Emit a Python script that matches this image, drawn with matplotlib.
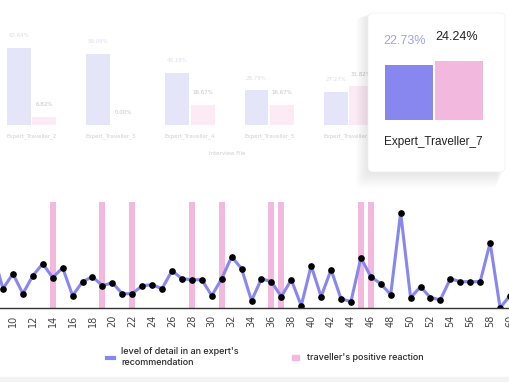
import matplotlib.pyplot as plt
from matplotlib.patches import FancyBboxPatch, Rectangle, Patch
from matplotlib.lines import Line2D
from matplotlib.transforms import IdentityTransform

# faded comparison chart behind the card
experts = ['Expert_Traveller_2', 'Expert_Traveller_3', 'Expert_Traveller_4',
           'Expert_Traveller_5', 'Expert_Traveller_6']
detail_pct = [63.64, 59.09, 43.18, 28.79, 27.27]
reaction_pct = [6.82, 0.00, 16.67, 16.67, 31.82]

# highlighted card
card_expert = 'Expert_Traveller_7'
card_values = [22.73, 24.24]

# line chart: level of detail per answer + positive reactions
answers = list(range(8, 61))
detail_level = [54, 19, 34, 14, 32, 44, 30, 40, 12, 26, 31, 22, 25, 14, 14, 22,
                23, 19, 37, 29, 28, 28, 12, 29, 51, 39, 7, 29, 26, 11, 28, 2,
                42, 11, 38, 9, 6, 50, 31, 24, 13, 95, 10, 21, 10, 8, 29, 26,
                26, 26, 65, 0, 12]
reaction_at = [14, 19, 22, 28, 31, 36, 37, 45, 46]
reaction_val = [1] * len(reaction_at)

PURPLE = '#8787ef'
PINK = '#f2b8dd'
W, H = 510, 382

fig = plt.figure(figsize=(W / 100, H / 100), dpi=100)


def px_axes(x0, y0, x1, y1):
    return fig.add_axes([x0 / W, 1 - y1 / H, (x1 - x0) / W, (y1 - y0) / H])


# ---- faded top chart
ax_top = px_axes(0, 0, 510, 125)
step = 79.25
xs = list(range(len(experts)))
ax_top.bar([x - 0.16 for x in xs], detail_pct, 0.3, color='#e5e5fa')
ax_top.bar([x + 0.16 for x in xs], reaction_pct, 0.3, color='#fcebf4')
for x, a, b in zip(xs, detail_pct, reaction_pct):
    ax_top.text(x - 0.16, a + 10, f'{a:.2f}%', ha='center', va='center',
                fontsize=4, color='#dcdcf0')
    ax_top.text(x + 0.16, b + 10, f'{b:.2f}%', ha='center', va='center',
                fontsize=4, color='#c4c4c8')
ax_top.set_xlim(-31.5 / step, (510 - 31.5) / step)
ax_top.set_ylim(0, 125 / 1.21)
ax_top.set_xticks(xs)
ax_top.set_xticklabels(experts, fontsize=4, color='#cfcfd3')
ax_top.tick_params(length=0, pad=6)
ax_top.set_yticks([])
for s in ax_top.spines.values():
    s.set_visible(False)
fig.text(227 / W, 1 - 154 / H, 'Interview File', ha='center', va='center',
         fontsize=4, color='#cfcfd3')

# ---- line chart
ax = px_axes(0, 195, 510, 307.7)
axb = ax.twinx()
axb.bar(reaction_at, reaction_val, 0.6, color=PINK)
axb.set_ylim(0, 112.7 / 105.5)
axb.axis('off')
ax.set_zorder(axb.get_zorder() + 1)
ax.patch.set_visible(False)
ax.plot(answers, detail_level, color=PURPLE, lw=2.2, marker='o',
        markersize=3.8, markerfacecolor='black', markeredgecolor='black')
ax.set_xlim(8.7, 59.5)
ax.set_ylim(0, 112.7)
ax.set_xticks(range(10, 61, 2))
ax.set_xticklabels([str(t) for t in range(10, 61, 2)], rotation=90,
                   fontsize=7, color='#444444')
ax.tick_params(axis='x', length=0, pad=5)
ax.set_yticks([])
for k in ['top', 'left', 'right']:
    ax.spines[k].set_visible(False)
ax.spines['bottom'].set_color('#333333')
ax.spines['bottom'].set_linewidth(1.0)

handles = [Line2D([], [], color=PURPLE, lw=3),
           Patch(color=PINK)]
labels = ["level of detail in an expert's\nrecommendation",
          "traveller's positive reaction"]
fig.legend(handles, labels, loc='center', bbox_to_anchor=(0.5196, 1 - 357 / H),
           ncol=2, frameon=False, handlelength=0.8,
           handleheight=0.4, columnspacing=5.9, handletextpad=0.8,
           labelcolor='#2a2a2a', prop={'family': 'Inter', 'size': 6.5,
                                       'weight': 'medium'})

fig.patches.append(Rectangle((0, 0), 1, 5 / H, transform=fig.transFigure,
                             color='#f3f3f3', zorder=0))

# ---- card with soft shadow
cx0, cy0, cx1, cy1 = 368, 13, 505, 172
for k in range(8, 0, -1):
    fig.patches.append(FancyBboxPatch(
        (cx0 - k * 1.5, H - cy1 - k * 2), cx1 - cx0 + k * 0.5, cy1 - cy0 + k * 1.5,
        boxstyle='round,pad=0,rounding_size=6', transform=IdentityTransform(),
        facecolor='#000000', edgecolor='none', alpha=0.011, zorder=5))
fig.patches.append(FancyBboxPatch(
    (cx0, H - cy1), cx1 - cx0, cy1 - cy0, boxstyle='round,pad=0,rounding_size=5',
    transform=IdentityTransform(), facecolor='white', edgecolor='#f0f0f0',
    lw=0.5, zorder=6))

axc = px_axes(cx0 + 2, cy0 + 2, cx1 - 2, cy1 - 2)
axc.set_zorder(10)
axc.patch.set_visible(False)
axc.bar([-0.5, 0.5], card_values, 0.96, color=[PURPLE, PINK])
axc.set_xlim((cx0 + 2 - 434) / 50, (cx1 - 2 - 434) / 50)
axc.set_ylim(-(cy1 - 2 - 120) / 2.42, (120 - cy0 - 2) / 2.42)
axc.axis('off')
axc.text(-0.58, card_values[0] + 10, f'{card_values[0]:.2f}%', ha='center',
         va='center', fontsize=9, color='#a2a2e2', family='Liberation Sans')
axc.text(0.46, card_values[1] + 10, f'{card_values[1]:.2f}%', ha='center',
         va='center', fontsize=9, color='#222222', family='Liberation Sans')
axc.text(-0.02, -9, card_expert, ha='center', va='center', fontsize=8.5,
         color='#222222', family='Liberation Sans')

fig.savefig('out.png', dpi=100)
